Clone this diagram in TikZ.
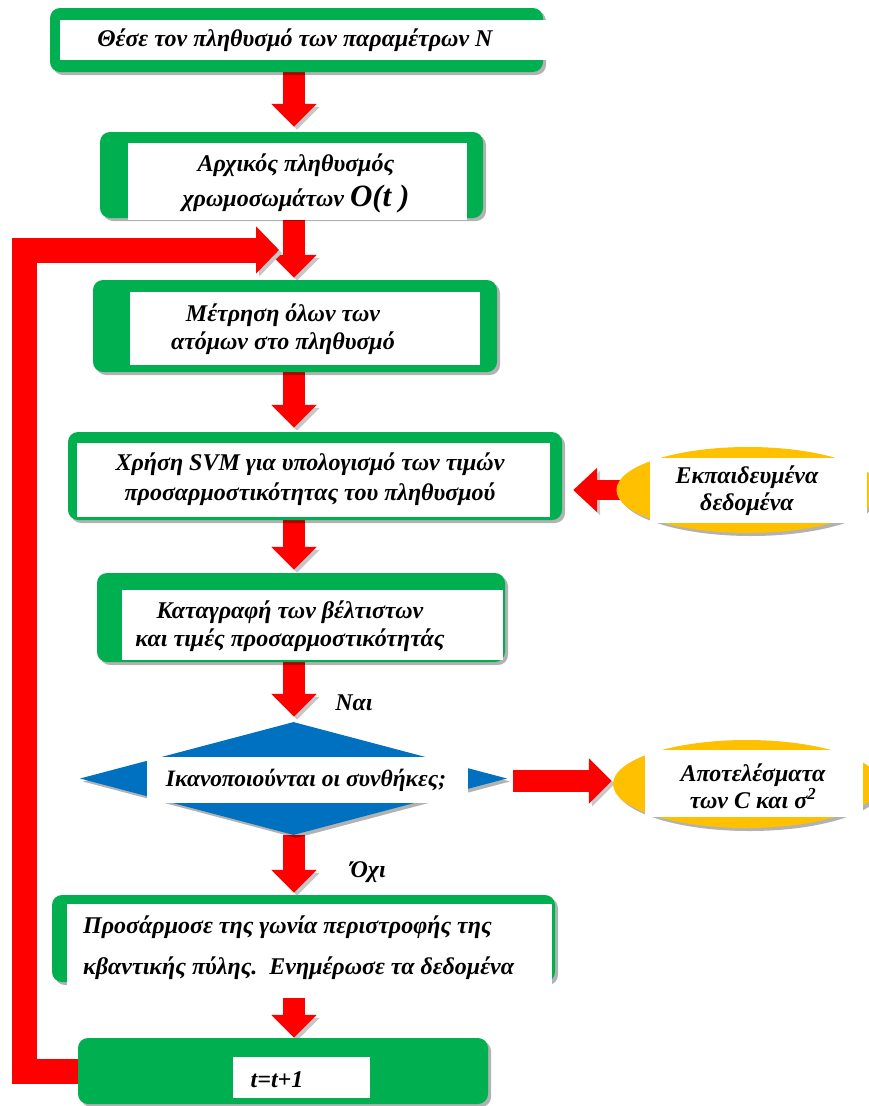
\documentclass[tikz,border=0pt]{standalone}
\usepackage{fontspec}
\setmainfont{Liberation Serif}
\usetikzlibrary{shapes.geometric,arrows.meta,shadows}
\definecolor{boxgreen}{HTML}{00B050}
\definecolor{flowred}{HTML}{FF0000}
\definecolor{choiceblue}{HTML}{0070C0}
\definecolor{datayellow}{HTML}{FFC000}
\pgfdeclarelayer{paper}
\pgfdeclarelayer{links}
\pgfsetlayers{paper,links,main}
\tikzset{
  boxshadow/.style={drop shadow={shadow xshift=3pt,shadow yshift=-3pt,opacity=0.3,fill=black}},
  greenbox/.style={fill=boxgreen, rounded corners=10pt, inner sep=0pt, boxshadow},
  yellowdisc/.style={ellipse, fill=datayellow, inner sep=0pt, boxshadow},
  whitebox/.style={fill=white, inner sep=0pt},
  txt/.style={font=\bfseries\itshape\fontsize{24}{28}\selectfont, align=center, inner sep=0pt},
  flowshadow/.style={preaction={draw=black!22, transform canvas={xshift=3pt,yshift=-3pt}}},
  flow/.style={draw=flowred, line width=22pt, -{Triangle[width=44pt,length=23pt]}, flowshadow},
  backloop/.style={draw=flowred, line width=25pt, line join=miter, -{Triangle[width=46pt,length=23pt]}, flowshadow}
}
\begin{document}
\begin{tikzpicture}[x=1pt,y=-1pt]
\begin{pgfonlayer}{paper}
  \fill[white] (0,0) rectangle (869,1106);
\end{pgfonlayer}
\useasboundingbox (0,0) rectangle (869,1106);

% step boxes: green frame, white panel, caption
\node[greenbox, minimum width=493pt, minimum height=64pt] (b1) at (296.5,40) {};
\node[whitebox, minimum width=492pt, minimum height=40pt] (w1) at (306,40) {};
\node[txt] (t1) at (295,40) {Θέσε τον πληθυσμό των παραμέτρων N};

\node[greenbox, minimum width=383pt, minimum height=86pt] (b2) at (291.5,175) {};
\node[whitebox, minimum width=339pt, minimum height=77pt] (w2) at (297.5,181.5) {};
\node[txt, font=\bfseries\itshape\fontsize{24}{35}\selectfont] (t2) at (296,183)
  {Αρχικός πληθυσμός\\χρωμοσωμάτων {\fontsize{31}{31}\selectfont O(t )}};

\node[greenbox, minimum width=404pt, minimum height=92pt] (b3) at (295,326) {};
\node[whitebox, minimum width=350pt, minimum height=73pt] (w3) at (305,328.5) {};
\node[txt] (t3) at (283,329) {Μέτρηση όλων των\\ατόμων στο πληθυσμό};

\node[greenbox, minimum width=494pt, minimum height=88pt] (b4) at (315,476) {};
\node[whitebox, minimum width=473pt, minimum height=74pt] (w4) at (313.5,480) {};
\node[txt, font=\bfseries\itshape\fontsize{24}{30}\selectfont] (t4) at (310,479)
  {Χρήση SVM για υπολογισμό των τιμών\\προσαρμοστικότητας του πληθυσμού};

\node[yellowdisc, minimum width=263pt, minimum height=86pt] (e1) at (748,490) {};
\node[whitebox, minimum width=217pt, minimum height=65pt] (we1) at (758.5,490.5) {};
\node[txt, font=\bfseries\itshape\fontsize{24}{27}\selectfont] (te1) at (747,491) {Εκπαιδευμένα\\δεδομένα};

\node[greenbox, minimum width=408pt, minimum height=89pt] (b5) at (301,617.5) {};
\node[whitebox, minimum width=381pt, minimum height=70pt] (w5) at (312.5,625) {};
\node[txt] (t5) at (290,626) {Καταγραφή των βέλτιστων\\και τιμές προσαρμοστικότητάς};

% decision
\node[diamond, fill=choiceblue, inner sep=0pt, boxshadow,
      minimum width=427pt, minimum height=113pt] (dia) at (293.5,778.5) {};
\node[whitebox, minimum width=321pt, minimum height=46pt] (wd) at (307.5,780) {};
\node[txt, font=\bfseries\itshape\fontsize{23.5}{26}\selectfont] (td) at (306,780) {Ικανοποιούνται οι συνθήκες;};
\node[txt] (yes) at (354,703) {Ναι};
\node[txt] (no) at (368,872) {Όχι};

\node[yellowdisc, minimum width=267pt, minimum height=88pt] (e2) at (746.5,784) {};
\node[whitebox, minimum width=218pt, minimum height=67pt] (we2) at (754,783.5) {};
\node[txt, font=\bfseries\itshape\fontsize{24}{27}\selectfont] (te2) at (753,786)
  {Αποτελέσματα\\των C και σ\textsuperscript{2}};

\node[greenbox, minimum width=503pt, minimum height=87pt] (b6) at (303.5,938.5) {};
\node[whitebox, minimum width=485pt, minimum height=88pt] (w6) at (309.5,948) {};
\node[txt, align=left, anchor=west, font=\bfseries\itshape\fontsize{24}{41}\selectfont] (t6) at (83,947.5)
  {Προσάρμοσε της γωνία περιστροφής της\\κβαντικής πύλης.\ \ Ενημέρωσε τα δεδομένα};

\node[greenbox, minimum width=410pt, minimum height=66pt] (b7) at (283,1071) {};
\node[whitebox, minimum width=137pt, minimum height=41pt] (w7) at (301.5,1077.5) {};
\node[txt] (t7) at (277,1080) {t=t+1};

% connectors, kept under the boxes
\coordinate (ax) at (294,0);
\coordinate (entry) at (279,250);
\coordinate (lx) at (24.5,250);
\begin{pgfonlayer}{links}
  \draw[flow, shorten >=5pt] (b1.south -| ax) -- (b2.north -| ax);
  \draw[flow, shorten >=2pt] (b2.south -| ax) -- (b3.north -| ax);
  \draw[flow, shorten >=4pt] (b3.south -| ax) -- (b4.north -| ax);
  \draw[flow, shorten >=3pt] (b4.south -| ax) -- (b5.north -| ax);
  \draw[flow, shorten >=5pt] (b5.south -| ax) -- (dia.north -| ax);
  \draw[flow, shorten >=2pt] (dia.south -| ax) -- (b6.north -| ax);
  \draw[flow, shorten <=6pt] (w6.south -| ax) -- (b7.north -| ax);
  \draw[flow, line width=20pt, -{Triangle[width=43pt,length=24pt]}, shorten >=11pt]
    (e1.center) -- (b4.east |- e1.center);
  \draw[flow, shorten <=6pt, shorten >=1pt] (dia.east |- 0,781) -- (e2.west |- 0,781);
  \draw[backloop] (b7.center) -| (lx) -- (entry);
\end{pgfonlayer}
\end{tikzpicture}
\end{document}
